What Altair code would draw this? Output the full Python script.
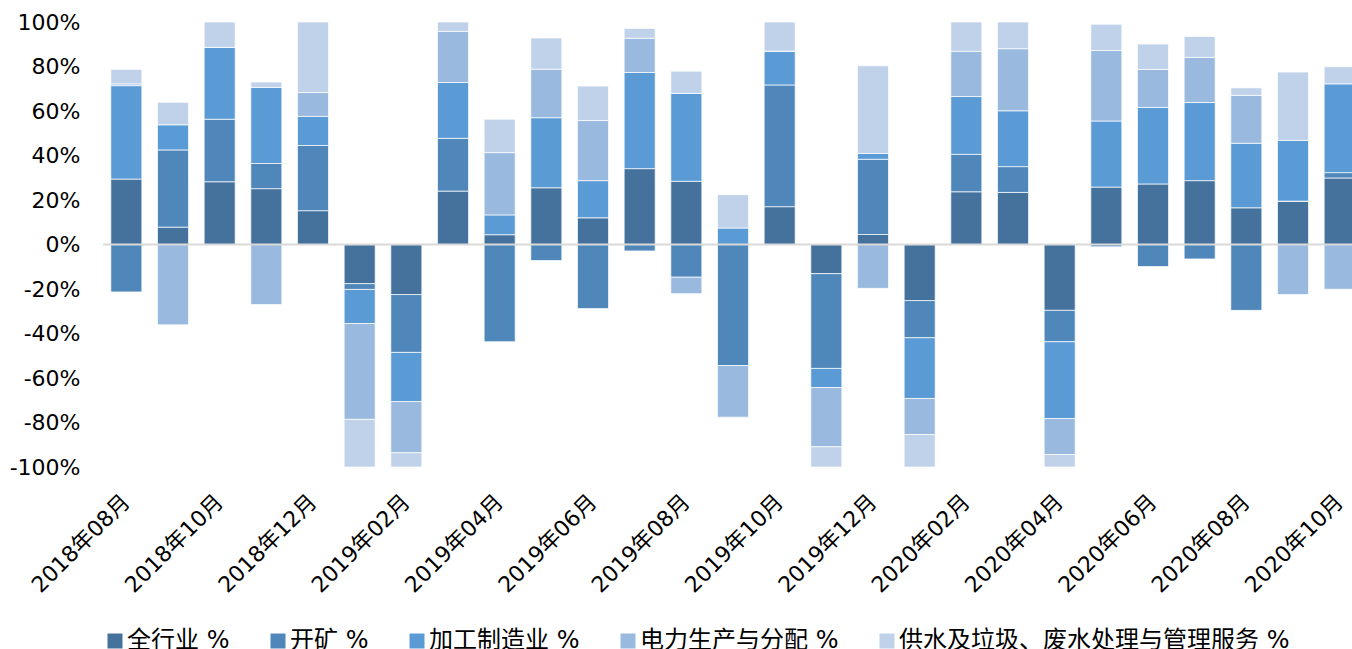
import altair as alt
import pandas as pd

# Monthly categories, 2018-08 through 2020-10
months = [
    "2018年08月", "2018年09月", "2018年10月", "2018年11月", "2018年12月",
    "2019年01月", "2019年02月", "2019年03月", "2019年04月", "2019年05月",
    "2019年06月", "2019年07月", "2019年08月", "2019年09月", "2019年10月",
    "2019年11月", "2019年12月", "2020年01月", "2020年02月", "2020年03月",
    "2020年04月", "2020年05月", "2020年06月", "2020年07月", "2020年08月",
    "2020年09月", "2020年10月",
]

series = [
    "全行业 %",
    "开矿 %",
    "加工制造业 %",
    "电力生产与分配 %",
    "供水及垃圾、废水处理与管理服务 %",
]
colors = ["#44729d", "#4f87ba", "#5b9bd5", "#9ab9df", "#bfd2ea"]

# Contribution shares (%) per month, one list per series
all_industry = [29.4, 7.8, 28.2, 25.1, 15.2, -17.6, -22.5, 24.0, 4.4, 25.5,
                12.0, 34.1, 28.4, 0.0, 17.0, -13.1, 4.5, -25.2, 23.7, 23.4,
                -29.6, 25.8, 27.2, 28.7, 16.5, 19.5, 29.9]
mining = [-21.3, 34.7, 28.1, 11.3, 29.3, -2.6, -26.0, 23.7, -43.7, -7.2,
          -28.8, -2.9, -14.7, -54.4, 54.7, -42.6, 33.8, -16.7, 16.8, 11.6,
          -14.1, -1.0, -9.9, -6.5, -29.6, 0.0, 2.4]
manufacturing = [42.0, 11.3, 32.3, 34.2, 13.1, -15.3, -22.1, 25.1, 8.9, 31.5,
                 16.7, 43.2, 39.5, 7.4, 15.2, -8.6, 2.6, -27.3, 26.0, 25.1,
                 -34.5, 29.7, 34.4, 35.1, 29.0, 27.3, 39.9]
power = [0.8, -36.1, 0.0, -27.0, 10.7, -43.1, -23.0, 23.0, 28.0, 21.8,
         27.0, 15.4, -7.4, -23.2, 0.0, -26.6, -19.7, -16.2, 20.3, 27.9,
         -16.2, 31.7, 17.1, 20.3, 21.5, -22.5, -20.1]
water = [6.5, 10.1, 11.4, 2.4, 31.7, -21.4, -6.4, 4.2, 15.0, 14.0,
         15.5, 4.4, 10.0, 15.0, 13.1, -9.1, 39.4, -14.6, 13.2, 12.0,
         -5.6, 11.8, 11.4, 9.4, 3.4, 30.7, 7.7]

rows = []
for idx, (name, vals) in enumerate(zip(series, [all_industry, mining, manufacturing, power, water])):
    for m, v in zip(months, vals):
        rows.append({"month": m, "series": name, "rank": idx, "value": v})
df = pd.DataFrame(rows)

cjk_font = "DejaVu Sans, Noto Sans CJK SC"

bars = alt.Chart(df).mark_bar(stroke="#ffffff", strokeWidth=1, strokeOpacity=0.7).encode(
    x=alt.X(
        "month:N",
        sort=months,
        scale=alt.Scale(range=[0, 1260], paddingInner=0.335, paddingOuter=0.1675),
        axis=alt.Axis(
            values=months[::2],
            title=None,
            labelAngle=-45,
            labelAlign="right",
            labelBaseline="middle",
            labelFontSize=22,
            labelFont=cjk_font,
            labelColor="#000000",
            labelPadding=31,
            labelOverlap=False,
            labelLimit=400,
            domain=False,
            ticks=False,
            tickSize=0,
        ),
    ),
    y=alt.Y(
        "value:Q",
        stack="zero",
        scale=alt.Scale(domain=[-100, 100], nice=False),
        axis=alt.Axis(
            values=list(range(-100, 101, 20)),
            labelExpr="datum.value + '%'",
            title=None,
            grid=False,
            domain=False,
            ticks=False,
            tickSize=0,
            labelFontSize=22,
            labelFont="DejaVu Sans",
            labelColor="#000000",
            labelPadding=23,
        ),
    ),
    color=alt.Color(
        "series:N",
        scale=alt.Scale(domain=series, range=colors),
        legend=alt.Legend(
            title=None,
            orient="none",
            legendX=0,
            legendY=607,
            direction="horizontal",
            columns=5,
            symbolType="square",
            symbolSize=225,
            symbolStrokeWidth=0,
            labelFontSize=24,
            labelFont=cjk_font,
            labelColor="#000000",
            labelOffset=0,
            labelLimit=600,
            columnPadding=36,
            padding=0,
        ),
    ),
    order=alt.Order("rank:Q", sort="ascending"),
)

zero_line = alt.Chart(pd.DataFrame({"value": [0]})).mark_rule(
    color="#d9d9d9", strokeWidth=2
).encode(y="value:Q")

chart = alt.layer(bars, zero_line).properties(
    width=1249,
    height=445,
    autosize=alt.AutoSizeParams(type="none"),
    padding={"left": 103, "top": 22, "right": 0, "bottom": 182},
    background="#ffffff",
).configure_view(strokeWidth=0)

chart.save("out.html", embed_options={"renderer": "svg", "actions": False})
